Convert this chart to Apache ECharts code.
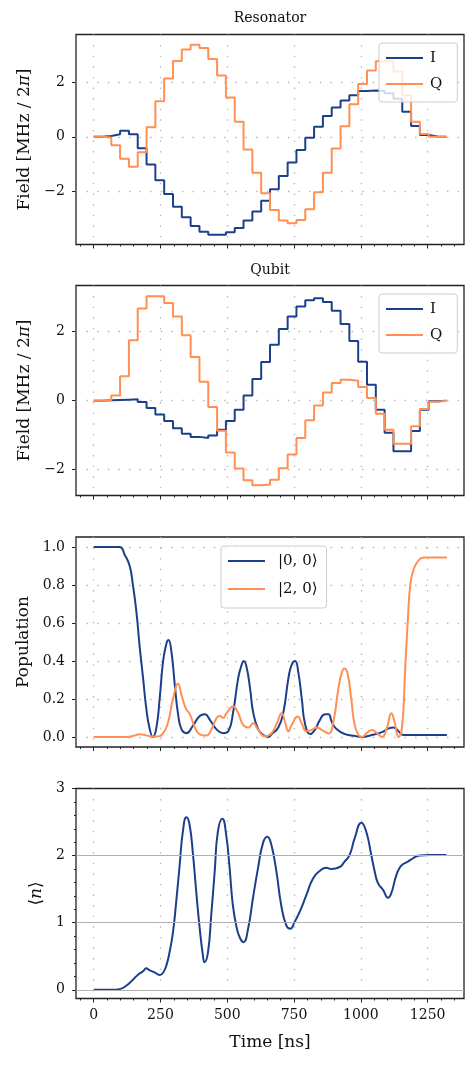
<!DOCTYPE html>
<html>
<head>
<meta charset="utf-8">
<script src="https://cdn.jsdelivr.net/npm/echarts@6/dist/echarts.min.js"></script>
<style>
  html, body { margin: 0; padding: 0; background: #fff; }
  #chart { width: 476px; height: 1065px; }
</style>
</head>
<body>
<div id="chart"></div>
<script>
// step edges of the piecewise-constant drives [ns]
const stepTimes = [0, 33, 66, 99, 132, 165, 198, 231, 264, 297, 330, 363, 396, 429, 462, 495, 528, 561, 594, 627,
  660, 693, 726, 759, 792, 825, 858, 891, 924, 957, 990, 1023, 1056, 1089, 1122, 1155, 1188, 1221, 1254, 1287, 1320]

// resonator drive (MHz / 2pi)
const resI = [0, 0.03, 0.09, 0.22, 0.09, -0.42, -1.02, -1.6, -2.1, -2.57, -2.96, -3.28, -3.49, -3.6, -3.6, -3.51, -3.35, -3.08, -2.75, -2.35,
  -1.93, -1.44, -0.95, -0.49, -0.04, 0.37, 0.76, 1.08, 1.33, 1.53, 1.68, 1.7, 1.68, 1.6, 1.4, 0.92, 0.4, 0.07, 0.01, 0]
const resQ = [0, -0.03, -0.31, -0.81, -1.1, -0.57, 0.35, 1.31, 2.14, 2.79, 3.21, 3.38, 3.26, 2.86, 2.25, 1.44, 0.55, -0.47, -1.32, -2.08,
  -2.69, -3.08, -3.18, -3.06, -2.66, -2.04, -1.32, -0.43, 0.39, 1.2, 1.94, 2.44, 2.78, 2.8, 2.4, 1.53, 0.55, 0.1, 0, 0]

// qubit drive (MHz / 2pi)
const qubI = [0, 0.01, 0.02, 0.03, 0.04, -0.04, -0.21, -0.4, -0.59, -0.8, -0.96, -1.05, -1.08, -1.01, -0.84, -0.59, -0.26, 0.15, 0.63, 1.12,
  1.62, 2.08, 2.44, 2.73, 2.91, 2.97, 2.86, 2.61, 2.22, 1.73, 1.13, 0.46, -0.26, -0.93, -1.47, -1.47, -0.88, -0.26, -0.02, 0]
const qubQ = [0, 0.01, 0.15, 0.71, 1.75, 2.67, 3.03, 3.03, 2.83, 2.44, 1.9, 1.27, 0.55, -0.18, -0.87, -1.5, -1.97, -2.31, -2.45, -2.43,
  -2.29, -1.96, -1.56, -1.08, -0.57, -0.14, 0.24, 0.51, 0.61, 0.58, 0.4, 0.08, -0.38, -0.84, -1.25, -1.25, -0.74, -0.24, -0.03, 0]

// populations
const pop00Times = [0, 97, 116, 135, 147, 160, 172, 185, 197, 210, 222, 235, 247, 260, 272, 280, 291, 304, 316, 329, 347, 372, 397, 416, 435,
  460, 485, 504, 522, 541, 554, 562, 572, 585, 597, 616, 635, 654, 666, 691, 710, 729, 741, 754, 766, 779, 791, 810, 829, 847, 866, 879,
  891, 910, 941, 979, 1004, 1041, 1079, 1104, 1122, 1141, 1160, 1191, 1266, 1322]
const pop00 = [1, 1, 0.96, 0.9, 0.8, 0.66, 0.48, 0.31, 0.15, 0.04, 0.0, 0.05, 0.2, 0.4, 0.49, 0.51, 0.45, 0.27, 0.12, 0.04, 0.02, 0.06, 0.11, 0.12, 0.09,
  0.04, 0.02, 0.03, 0.13, 0.31, 0.38, 0.4, 0.37, 0.26, 0.13, 0.04, 0.01, 0.0, 0.015, 0.05, 0.13, 0.31, 0.38, 0.4, 0.34, 0.2, 0.07, 0.015, 0.04, 0.09, 0.12, 0.12,
  0.08, 0.04, 0.015, 0.005, 0, 0.01, 0.025, 0.045, 0.05, 0.03, 0.01, 0.01, 0.01, 0.01]
const pop20Times = [0, 122, 147, 172, 191, 210, 235, 260, 279, 297, 316, 329, 345, 360, 379, 397, 422, 441, 460, 472, 485, 497, 522, 541, 560,
  579, 597, 616, 641, 666, 685, 704, 716, 729, 741, 764, 779, 797, 816, 835, 854, 879, 897, 916, 929, 939, 951, 964, 976, 991, 1004, 1022,
  1041, 1060, 1079, 1097, 1114, 1126, 1141, 1154, 1166, 1176, 1185, 1197, 1216, 1241, 1322]
const pop20 = [0, 0, 0.005, 0.014, 0.01, 0.004, 0.002, 0.02, 0.08, 0.2, 0.28, 0.22, 0.15, 0.12, 0.05, 0.014, 0.007, 0.04, 0.1, 0.11, 0.1, 0.125, 0.16, 0.125, 0.063,
  0.05, 0.072, 0.037, 0.003, 0.02, 0.07, 0.125, 0.08, 0.03, 0.063, 0.107, 0.07, 0.03, 0.037, 0.05, 0.037, 0.018, 0.08, 0.256, 0.34, 0.36, 0.33, 0.2, 0.07, 0.01, 0, 0.02,
  0.037, 0.02, 0, 0.045, 0.125, 0.08, 0.0, 0.05, 0.36, 0.62, 0.8, 0.88, 0.93, 0.945, 0.945]

// mean photon number
const nTimes = [0, 72, 97, 122, 147, 166, 185, 197, 210, 228, 247, 259, 272, 284, 297, 309, 322, 334, 347, 359, 372, 384, 397, 409, 415, 428,
  440, 453, 465, 482, 496, 509, 521, 536, 549, 561, 578, 596, 615, 634, 650, 665, 684, 702, 721, 736, 752, 771, 796, 821, 846, 871, 889,
  921, 939, 958, 977, 1002, 1020, 1039, 1052, 1064, 1083, 1102, 1114, 1133, 1151, 1176, 1195, 1220, 1257, 1320]
const nMean = [0, 0, 0.01, 0.06, 0.15, 0.225, 0.275, 0.32, 0.29, 0.26, 0.22, 0.25, 0.36, 0.56, 0.86, 1.31, 1.86, 2.36, 2.57, 2.46, 2.01, 1.46, 0.91, 0.51, 0.41, 0.56,
  1.11, 1.76, 2.36, 2.55, 2.31, 1.81, 1.26, 0.91, 0.76, 0.71, 0.91, 1.36, 1.81, 2.19, 2.28, 2.16, 1.76, 1.26, 0.96, 0.91, 1.01, 1.16, 1.41, 1.66, 1.77, 1.82, 1.8,
  1.83, 1.91, 2.01, 2.26, 2.49, 2.36, 2.01, 1.76, 1.59, 1.49, 1.37, 1.44, 1.71, 1.85, 1.91, 1.96, 2.0, 2.01, 2.01]

// ticks
const timeTicks = [0, 250, 500, 750, 1000, 1250]
const timeMinorTicks = [-50, 0, 50, 100, 150, 200, 250, 300, 350, 400, 450, 500, 550, 600, 650, 700, 750, 800, 850, 900, 950,
  1000, 1050, 1100, 1150, 1200, 1250, 1300, 1350]
const fieldTicks = [-2, 0, 2]
const popTicks = [0, 0.2, 0.4, 0.6, 0.8, 1.0]
const nTicks = [0, 1, 2, 3]
const nMinorTicks = [0, 0.2, 0.4, 0.6, 0.8, 1, 1.2, 1.4, 1.6, 1.8, 2, 2.2, 2.4, 2.6, 2.8, 3]
const nGuides = [0, 1, 2]

const FONT = 'DejaVu Serif'
const BLUE = '#1c3f8c'
const ORANGE = '#ff8f52'
const INK = '#111'

const gridTops = [34.5, 285.5, 537, 788.5]
const yRanges = [[-3.96, 3.76], [-2.75, 3.34], [-0.053, 1.053], [-0.13, 3.0]]

function stepData(vals) {
  return stepTimes.map((t, i) => [t, vals[Math.min(i, vals.length - 1)]])
}
function pairs(ts, vs) {
  return ts.map((t, i) => [t, vs[i]])
}
function fmtMinus(v) {
  return v < 0 ? '\u2212' + Math.abs(v) : String(v)
}

const dotted = { color: '#b5b5b5', type: [1.4, 9.2], width: 1.3 }
const noLine = { show: false, onZero: false }

const xAxes = []
gridTops.forEach((t, g) => {
  const last = g === 3
  xAxes.push({
    type: 'value', gridIndex: g, min: -66, max: 1386, position: 'bottom',
    axisLine: noLine,
    axisTick: { show: true, customValues: timeTicks, length: 4, lineStyle: { color: '#222', width: 1 } },
    axisLabel: { show: last, customValues: timeTicks, margin: 10, fontFamily: FONT, fontSize: 14, color: INK,
      formatter: v => String(v) },
    splitLine: { show: true, lineStyle: dotted },
    name: last ? 'Time [ns]' : '', nameLocation: 'middle', nameGap: 36,
    nameTextStyle: { fontFamily: FONT, fontSize: 17, color: INK }
  })
  xAxes.push({
    type: 'value', gridIndex: g, min: -66, max: 1386, position: 'bottom',
    axisLine: noLine,
    axisTick: { show: true, customValues: timeMinorTicks, length: 2, lineStyle: { color: '#222', width: 1 } },
    axisLabel: { show: false },
    splitLine: { show: false }
  })
})

const yNameStyle = {
  fontFamily: FONT, fontSize: 17, color: INK,
  rich: { i: { fontFamily: FONT, fontSize: 17, fontStyle: 'italic', color: INK } }
}
const yAxes = [
  { ticks: fieldTicks, name: 'Field [MHz / 2{i|\u03c0}]', gap: 43, fmt: fmtMinus, grid: true },
  { ticks: fieldTicks, name: 'Field [MHz / 2{i|\u03c0}]', gap: 43, fmt: fmtMinus, grid: true },
  { ticks: popTicks, name: 'Population', gap: 43, fmt: v => v.toFixed(1), grid: true },
  { ticks: nTicks, name: '\u27e8{i|n}\u27e9', gap: 31, fmt: v => String(v), grid: false }
].map((a, g) => ({
  type: 'value', gridIndex: g, min: yRanges[g][0], max: yRanges[g][1], position: 'left',
  axisLine: noLine,
  axisTick: { show: true, customValues: a.ticks, length: 4, lineStyle: { color: '#222', width: 1 } },
  axisLabel: { customValues: a.ticks, margin: 11, fontFamily: FONT, fontSize: 14, color: INK, formatter: a.fmt },
  splitLine: { show: a.grid, lineStyle: dotted },
  name: a.name, nameLocation: 'middle', nameRotate: 90, nameGap: a.gap, nameTextStyle: yNameStyle
}))
yAxes.push({
  type: 'value', gridIndex: 3, min: yRanges[3][0], max: yRanges[3][1], position: 'left',
  axisLine: noLine,
  axisTick: { show: true, customValues: nMinorTicks, length: 2, lineStyle: { color: '#222', width: 1 } },
  axisLabel: { show: false },
  splitLine: { show: false }
})

function lineSeries(name, g, data, color, extra) {
  return Object.assign({
    name: name, type: 'line', xAxisIndex: 2 * g, yAxisIndex: g, data: data,
    symbol: 'none', showSymbol: false, z: 3,
    lineStyle: { color: color, width: 2 }, itemStyle: { color: color }
  }, extra || {})
}

const legendBase = {
  orient: 'vertical', icon: 'rect', itemWidth: 37, itemHeight: 2, itemGap: 8,
  selectedMode: false, backgroundColor: 'rgba(255,255,255,0.8)',
  borderColor: '#cccccc', borderWidth: 1, borderRadius: 3
}
const legendText = { fontFamily: FONT, fontSize: 15, color: INK, lineHeight: 18 }

const option = {
  animation: false,
  backgroundColor: '#fff',
  title: [
    { text: 'Resonator', left: 270, top: 11, textAlign: 'center', padding: 0,
      textStyle: { fontFamily: FONT, fontSize: 14, fontWeight: 'normal', color: INK } },
    { text: 'Qubit', left: 270, top: 263, textAlign: 'center', padding: 0,
      textStyle: { fontFamily: FONT, fontSize: 14, fontWeight: 'normal', color: INK } }
  ],
  legend: [
    Object.assign({}, legendBase, { data: ['I', 'Q'], left: 379, top: 43, padding: [6, 15, 9, 7],
      textStyle: Object.assign({}, legendText, { padding: [0, 0, 0, 2] }) }),
    Object.assign({}, legendBase, { data: ['I', 'Q'], left: 379, top: 294, padding: [6, 15, 9, 7],
      textStyle: Object.assign({}, legendText, { padding: [0, 0, 0, 2] }) }),
    Object.assign({}, legendBase, { data: ['|0, 0\u27e9', '|2, 0\u27e9'], left: 221, top: 546, itemGap: 10, padding: [6, 9, 10, 7],
      textStyle: Object.assign({}, legendText, { padding: [0, 0, 0, 8] }) })
  ],
  grid: gridTops.map(t => ({
    left: 76, right: 12, top: t, height: 210,
    show: true, borderColor: '#222', borderWidth: 1.3, backgroundColor: 'transparent'
  })),
  xAxis: xAxes,
  yAxis: yAxes,
  series: [
    lineSeries('I', 0, stepData(resI), BLUE, { step: 'end' }),
    lineSeries('Q', 0, stepData(resQ), ORANGE, { step: 'end' }),
    lineSeries('I', 1, stepData(qubI), BLUE, { step: 'end' }),
    lineSeries('Q', 1, stepData(qubQ), ORANGE, { step: 'end' }),
    lineSeries('|0, 0\u27e9', 2, pairs(pop00Times, pop00), BLUE, { smooth: 0.5 }),
    lineSeries('|2, 0\u27e9', 2, pairs(pop20Times, pop20), ORANGE, { smooth: 0.5 }),
    {
      name: 'guides', type: 'line', xAxisIndex: 6, yAxisIndex: 3, data: [], z: 1, silent: true,
      markLine: {
        silent: true, symbol: 'none', label: { show: false },
        lineStyle: { color: '#b0b0b0', type: 'solid', width: 1.2 },
        data: nGuides.map(v => ({ yAxis: v }))
      }
    },
    lineSeries('n', 3, pairs(nTimes, nMean), BLUE, { smooth: 0.5 })
  ]
}

const chart = echarts.init(document.getElementById('chart'), null, { renderer: 'canvas' })
chart.setOption(option)
</script>
</body>
</html>
